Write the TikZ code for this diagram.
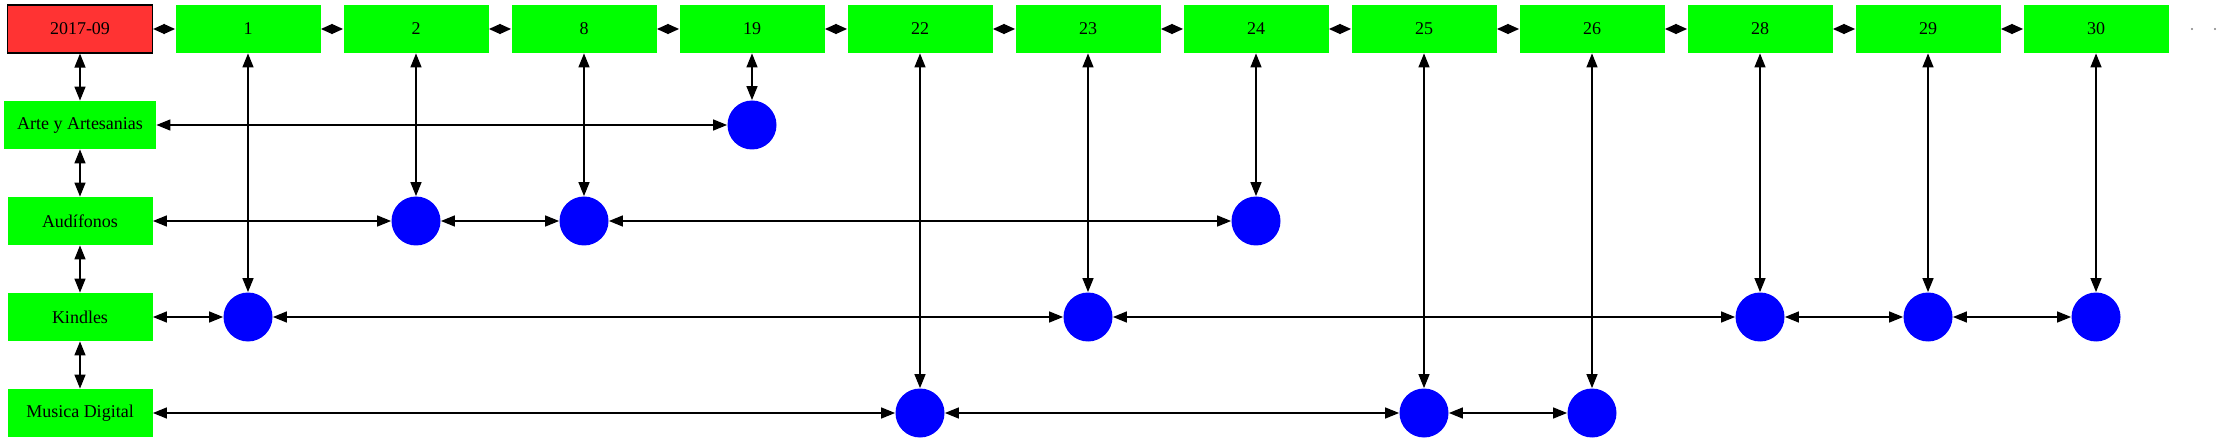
\documentclass[tikz,border=0pt]{standalone}
\usepackage{fontspec}
\setmainfont{Liberation Serif}
\usetikzlibrary{arrows.meta}
\definecolor{daygreen}{HTML}{00FF00}
\definecolor{monthred}{HTML}{FF3333}
\tikzset{>={Triangle[length=7pt,width=5.5pt]}}
\tikzset{
  day/.style={fill=daygreen, minimum width=72.5pt, minimum height=24pt, inner sep=0pt, font=\fontsize{9}{10}\selectfont},
  month/.style={day, fill=monthred, draw=black, line width=0.6pt},
  hit/.style={circle, fill=blue, minimum size=24.5pt, inner sep=0pt},
  link/.style={<->, line width=0.7pt},
  chain/.style={line width=0.7pt, {Triangle[length=5.75pt,width=5pt]}-{Triangle[length=5.75pt,width=5pt]}},
}

\begin{document}
\begin{tikzpicture}[x=0.5pt, y=-0.5pt]
    \useasboundingbox (0,0) rectangle (2221,443);
    % header row
    \node[month] (m) at (80,29) {2017-09};
    \foreach \d [count=\i] in {1,2,8,19,22,23,24,25,26,28,29,30}
        \node[day] (d\d) at ({80+168*\i},29) {\d};
    \foreach \a/\b in {m/d1,d1/d2,d2/d8,d8/d19,d19/d22,d22/d23,d23/d24,d24/d25,d25/d26,d26/d28,d28/d29,d29/d30}
        \draw[chain] (\a) -- (\b);
    \fill[gray] (2192,29) circle (0.6pt) (2215,29) circle (0.6pt);
    % categories
    \node[day, minimum width=76pt] (arte) at (80,125) {Arte y Artesanias};
    \node[day] (aud) at (80,221) {Audífonos};
    \node[day] (kin) at (80,317) {Kindles};
    \node[day] (mus) at (80,413) {Musica Digital};
    \draw[link] (m) -- (arte);
    \draw[link] (arte) -- (aud);
    \draw[link] (aud) -- (kin);
    \draw[link] (kin) -- (mus);
    % hits
    \foreach \r/\d in {arte/19, aud/2, aud/8, aud/24, kin/1, kin/23, kin/28, kin/29, kin/30, mus/22, mus/25, mus/26} {
        \node[hit] (\r\d) at (d\d |- \r) {};
        \draw[link] (d\d) -- (\r\d);
    }
    \foreach \a/\b in {arte/arte19, aud/aud2, aud2/aud8, aud8/aud24,
                       kin/kin1, kin1/kin23, kin23/kin28, kin28/kin29, kin29/kin30,
                       mus/mus22, mus22/mus25, mus25/mus26}
        \draw[link] (\a) -- (\b);
\end{tikzpicture}
\end{document}
